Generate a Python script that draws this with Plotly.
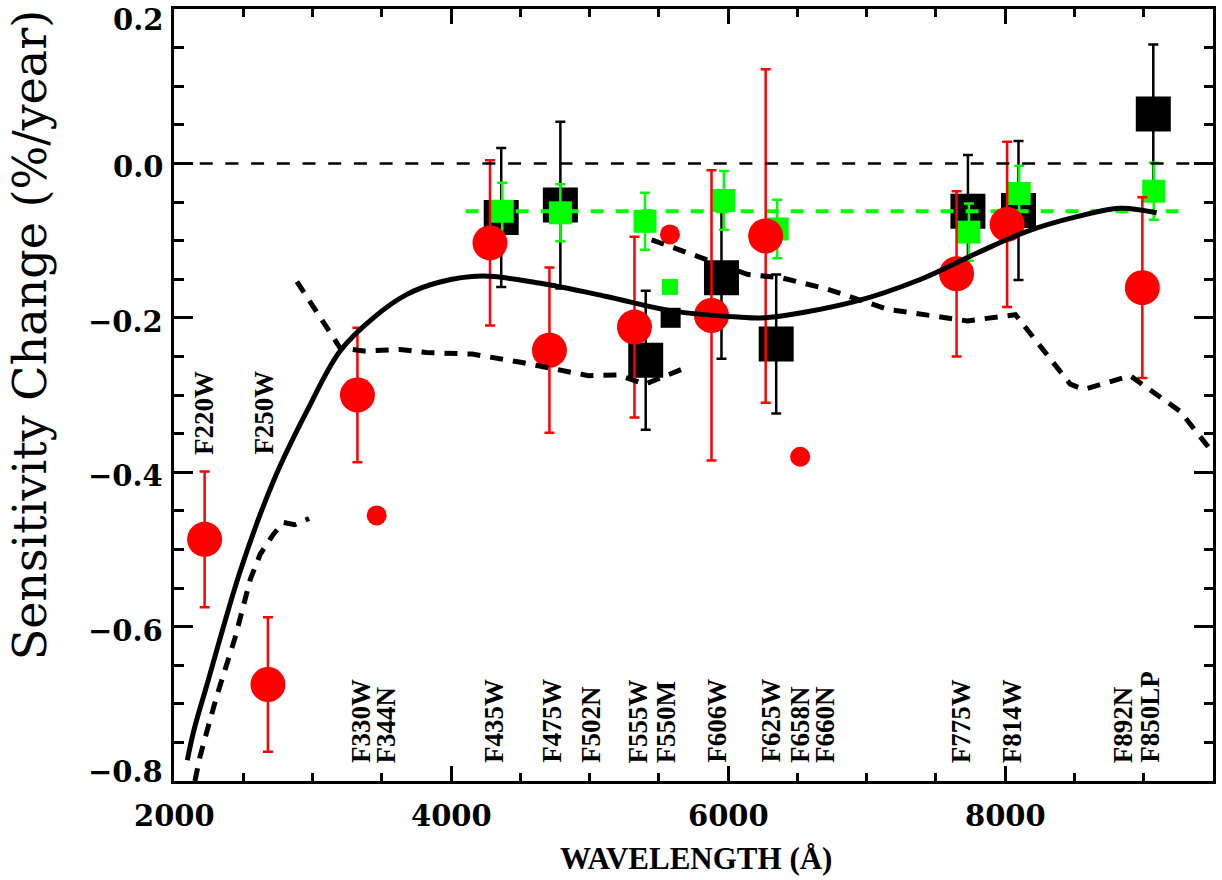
import plotly.graph_objects as go

# ---------------- data ----------------
# broad-band red points (large circles)
red_wl = [2221, 2678, 3324, 4281, 4710, 5324, 5880, 6271, 7649, 8014, 8990]
red_val = [-0.487, -0.675, -0.300, -0.103, -0.242, -0.212, -0.197, -0.094, -0.143, -0.079, -0.161]
red_err = [0.088, 0.087, 0.087, 0.107, 0.107, 0.117, 0.188, 0.216, 0.107, 0.107, 0.117]

# black squares
blk_wl = [4362, 4789, 5405, 5952, 6347, 7731, 8096, 9069]
blk_val = [-0.070, -0.054, -0.255, -0.148, -0.234, -0.062, -0.061, 0.064]
blk_err = [0.090, 0.108, 0.090, 0.105, 0.090, 0.073, 0.090, 0.090]

# green squares
grn_wl = [4369, 4789, 5400, 5969, 6354, 7738, 8101, 9072]
grn_val = [-0.062, -0.064, -0.075, -0.048, -0.085, -0.089, -0.039, -0.036]
grn_err = [0.037, 0.037, 0.037, 0.038, 0.038, 0.037, 0.036, 0.037]

# narrow / medium band points (small symbols)
sm_red_wl = [3463, 5580, 6520]
sm_red_val = [-0.456, -0.092, -0.380]
sm_grn_wl = [5580]
sm_grn_val = [-0.160]
sm_blk_wl = [5585]
sm_blk_val = [-0.200]

# solid fitted curve
fit_wl = [2096, 2144, 2240, 2480, 2719, 2959, 3199, 3439, 3678, 3914, 4225,
          4633, 5113, 5592, 6072, 6264, 6911, 7391, 7798, 8158, 8518, 8830, 9093]
fit_val = [-0.773, -0.734, -0.674, -0.527, -0.411, -0.321, -0.243, -0.200, -0.170, -0.154,
           -0.146, -0.155, -0.172, -0.191, -0.199, -0.200, -0.179, -0.150, -0.116,
           -0.088, -0.069, -0.058, -0.064]

# dashed curve (three pieces)
dsh1_wl = [2151, 2187, 2240, 2307, 2440, 2552, 2623, 2719, 2790, 2870, 2975]
dsh1_val = [-0.800, -0.769, -0.734, -0.691, -0.615, -0.538, -0.506, -0.480, -0.465, -0.468, -0.460]
dsh2_wl = [2887, 3199, 3367, 3631, 3822, 4153, 4513, 4993, 5209, 5400, 5688]
dsh2_val = [-0.153, -0.239, -0.243, -0.241, -0.245, -0.247, -0.258, -0.275, -0.274, -0.286, -0.265]
dsh3_wl = [5448, 5784, 6144, 6383, 6719, 7151, 7631, 7726, 8074, 8470, 8566, 8902, 9262, 9500]
dsh3_val = [-0.099, -0.120, -0.144, -0.148, -0.163, -0.189, -0.202, -0.204, -0.196, -0.286,
            -0.293, -0.275, -0.321, -0.375]

# reference lines
zero_wl = [2000, 9500]
zero_val = [0.0, 0.0]
mean_wl = [4105, 9270]
mean_val = [-0.062, -0.062]

# filter labels
top_lab = ["F220W", "F250W"]
top_lab_wl = [2216, 2647]
top_lab_y = -0.379
bot_lab = ["F330W", "F344N", "F435W", "F475W", "F502N", "F555W", "F550M", "F606W",
           "F625W", "F658N", "F660N", "F775W", "F814W", "F892N", "F850LP"]
bot_lab_wl = [3350, 3530, 4309, 4727, 5007, 5352, 5554, 5918, 6306, 6515, 6696,
              7683, 8050, 8849, 9043]
bot_lab_y = -0.778

x_ticks = [2000, 4000, 6000, 8000]
x_tick_text = ["2000", "4000", "6000", "8000"]
y_ticks = [-0.8, -0.6, -0.4, -0.2, 0.0, 0.2]
y_tick_text = ["\u22120.8", "\u22120.6", "\u22120.4", "\u22120.2", "0.0", "0.2"]

RED = "#FF0000"
GRN = "#00FF00"
BLK = "#000000"

fig = go.Figure()

# black squares
fig.add_trace(go.Scatter(
    x=blk_wl, y=blk_val, mode="markers",
    marker=dict(symbol="square", size=35, color=BLK, line=dict(width=0)),
    error_y=dict(type="data", array=blk_err, color=BLK, thickness=2.5, width=5),
))
fig.add_trace(go.Scatter(
    x=sm_blk_wl, y=sm_blk_val, mode="markers",
    marker=dict(symbol="square", size=20, color=BLK, line=dict(width=0)),
))
# green mean line
fig.add_trace(go.Scatter(
    x=mean_wl, y=mean_val, mode="lines",
    line=dict(color=GRN, width=4, dash="13px,12px"),
))
# green squares
fig.add_trace(go.Scatter(
    x=grn_wl, y=grn_val, mode="markers",
    marker=dict(symbol="square", size=23, color=GRN, line=dict(width=0)),
    error_y=dict(type="data", array=grn_err, color=GRN, thickness=2.5, width=5),
))
fig.add_trace(go.Scatter(
    x=sm_grn_wl, y=sm_grn_val, mode="markers",
    marker=dict(symbol="square", size=16, color=GRN, line=dict(width=0)),
))
# red circles
fig.add_trace(go.Scatter(
    x=red_wl, y=red_val, mode="markers",
    marker=dict(symbol="circle", size=35, color=RED, line=dict(width=0)),
    error_y=dict(type="data", array=red_err, color=RED, thickness=2.5, width=5),
))
fig.add_trace(go.Scatter(
    x=sm_red_wl, y=sm_red_val, mode="markers",
    marker=dict(symbol="circle", size=20, color=RED, line=dict(width=0)),
))
# zero line
fig.add_trace(go.Scatter(
    x=zero_wl, y=zero_val, mode="lines",
    line=dict(color=BLK, width=2.5, dash="13px,12.7px"),
))
# dashed curve pieces
for xs, ys in [(dsh1_wl, dsh1_val), (dsh2_wl, dsh2_val), (dsh3_wl, dsh3_val)]:
    fig.add_trace(go.Scatter(
        x=xs, y=ys, mode="lines",
        line=dict(color=BLK, width=5, dash="13px,10px"),
    ))
# solid fit
fig.add_trace(go.Scatter(
    x=fit_wl, y=fit_val, mode="lines",
    line=dict(color=BLK, width=5, shape="spline", smoothing=1.0),
))

annotations = []
lab_font = dict(family="Liberation Serif", size=27, color=BLK, weight="bold")
for t, xv in zip(top_lab, top_lab_wl):
    annotations.append(dict(x=xv, y=top_lab_y, xref="x", yref="y", text=t, showarrow=False,
                            textangle=-90, xanchor="center", yanchor="bottom", font=lab_font,
                            borderpad=0))
for t, xv in zip(bot_lab, bot_lab_wl):
    annotations.append(dict(x=xv, y=bot_lab_y, xref="x", yref="y", text=t, showarrow=False,
                            textangle=-90, xanchor="center", yanchor="bottom", font=lab_font,
                            borderpad=0))

tick_font = dict(family="DejaVu Serif", size=29, color=BLK, weight="bold")
for t, xv in zip(x_tick_text, x_ticks):
    annotations.append(dict(x=xv, y=0, xref="x", yref="paper", text=t, showarrow=False,
                            xanchor="center", yanchor="middle", yshift=-35, font=tick_font,
                            borderpad=0))
ymin, ymax = min(y_ticks), max(y_ticks)
for t, yv in zip(y_tick_text, y_ticks):
    if yv == ymax:
        anc, sh = "top", 7
    elif yv == ymin:
        anc, sh = "bottom", -9
    else:
        anc, sh = "middle", -4
    annotations.append(dict(x=0, y=yv, xref="paper", yref="y", text=t, showarrow=False,
                            xanchor="right", yanchor=anc, xshift=-10, yshift=sh,
                            font=tick_font, borderpad=0))

annotations.append(dict(x=0.502, y=-0.101, xref="paper", yref="paper",
                        text="WAVELENGTH (\u00c5)", showarrow=False,
                        xanchor="center", yanchor="middle",
                        font=dict(family="Liberation Serif", size=31, color=BLK, weight="bold")))
annotations.append(dict(x=-0.139, y=0.578, xref="paper", yref="paper",
                        text="Sensitivity Change (%/year)", showarrow=False, textangle=-90,
                        xanchor="center", yanchor="middle",
                        font=dict(family="DejaVu Serif", size=46, color=BLK)))

fig.update_layout(
    width=1222, height=880,
    margin=dict(l=174, r=6, t=7, b=99, pad=0),
    paper_bgcolor="white", plot_bgcolor="white",
    showlegend=False,
    annotations=annotations,
    xaxis=dict(range=[2000, 9500], showgrid=False, zeroline=False,
               showline=True, linecolor=BLK, linewidth=3, mirror="ticks",
               ticks="inside", ticklen=15, tickwidth=2.5, tickcolor=BLK,
               tickvals=x_ticks, showticklabels=False,
               minor=dict(ticks="inside", ticklen=8, tickwidth=2.5, tickcolor=BLK,
                          dtick=500, tick0=2000, showgrid=False)),
    yaxis=dict(range=[-0.8, 0.2], showgrid=False, zeroline=False,
               showline=True, linecolor=BLK, linewidth=3, mirror="ticks",
               ticks="inside", ticklen=19, tickwidth=2.5, tickcolor=BLK,
               tickvals=y_ticks, showticklabels=False,
               minor=dict(ticks="inside", ticklen=9.5, tickwidth=2.5, tickcolor=BLK,
                          dtick=0.05, tick0=0, showgrid=False)),
)

fig.write_html("out.html",
               config={"displayModeBar": False},
               post_script="document.body.style.margin='0px';document.body.style.padding='0px';")
